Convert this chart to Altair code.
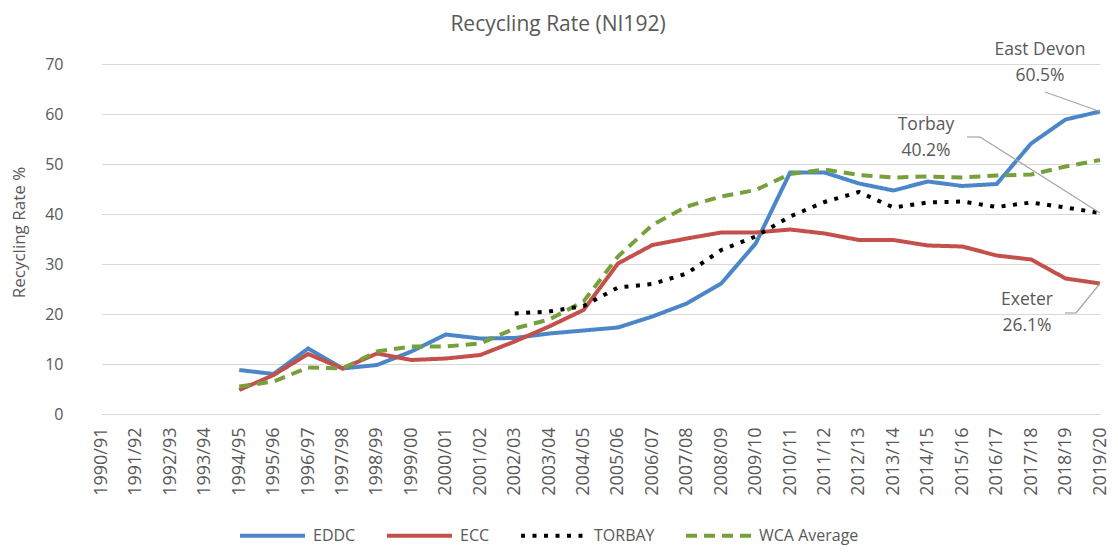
import altair as alt
import pandas as pd

years = ["1990/91", "1991/92", "1992/93", "1993/94", "1994/95", "1995/96", "1996/97",
         "1997/98", "1998/99", "1999/00", "2000/01", "2001/02", "2002/03", "2003/04",
         "2004/05", "2005/06", "2006/07", "2007/08", "2008/09", "2009/10", "2010/11",
         "2011/12", "2012/13", "2013/14", "2014/15", "2015/16", "2016/17", "2017/18",
         "2018/19", "2019/20"]

series_names = ["EDDC", "ECC", "TORBAY", "WCA Average"]

eddc = [None, None, None, None, 8.8, 8.0, 13.1, 9.1, 9.8, 12.5, 15.9, 15.1, 15.2, 16.1,
        16.7, 17.3, 19.5, 22.1, 26.1, 34.1, 48.3, 48.3, 46.1, 44.7, 46.5, 45.6, 46.0,
        54.1, 58.9, 60.5]
ecc = [None, None, None, None, 4.8, 7.8, 12.0, 9.1, 12.1, 10.8, 11.1, 11.8, 14.5, 17.5,
       20.8, 30.1, 33.8, 35.1, 36.3, 36.3, 36.9, 36.1, 34.8, 34.8, 33.7, 33.5, 31.7,
       30.9, 27.1, 26.1]
torbay = [None] * 12 + [20.1, 20.5, 21.6, 25.3, 26.0, 28.1, 32.8, 35.5, 39.5, 42.4,
                        44.4, 41.3, 42.3, 42.5, 41.4, 42.3, 41.3, 40.2]
wca = [None, None, None, None, 5.5, 6.5, 9.3, 9.1, 12.5, 13.5, 13.5, 14.1, 17.1, 18.9,
       22.5, 31.5, 37.8, 41.5, 43.5, 44.8, 48.0, 48.9, 47.8, 47.3, 47.5, 47.3, 47.7,
       47.9, 49.5, 50.8]

y_ticks = [0, 10, 20, 30, 40, 50, 60, 70]

ann_names = ["East Devon", "Torbay", "Exeter"]
ann_values = [60.5, 40.2, 26.1]
ann_labels = ["60.5%", "40.2%", "26.1%"]

colors = ["#4a86c8", "#c4504b", "#000000", "#76a03c"]
dashes = [[1, 0], [1, 0], [4, 7.5], [11, 7]]

rows = []
for name, vals in zip(series_names, [eddc, ecc, torbay, wca]):
    for yr, v in zip(years, vals):
        if v is not None:
            rows.append({"year": yr, "series": name, "rate": v})
df = pd.DataFrame(rows)

FONT = "Open Sans"
GREY = "#595959"

x_scale = alt.Scale(type="point", domain=years, range=[17.5, 1016], padding=0)
y_scale = alt.Scale(domain=[0, 70], nice=False)

x_axis = alt.Axis(title=None, labelAngle=270, labelAlign="right",
                  labelBaseline="middle", labelPadding=13, labelFontSize=18,
                  labelColor=GREY, labelFont=FONT, domain=False, ticks=False,
                  grid=False, labelOverlap=False)
y_axis = alt.Axis(title="Recycling Rate %", values=y_ticks, labelFontSize=16,
                  labelColor=GREY, labelFont=FONT, labelPadding=21,
                  domain=False, ticks=False, grid=True, gridColor="#d9d9d9",
                  gridWidth=1.2, titleFont=FONT, titleFontSize=17,
                  titleColor=GREY, titleFontWeight="normal", titleX=-65,
                  titleY=168, titleAngle=270, titleAlign="center",
                  titleBaseline="middle")

x_enc = alt.X("year:N", sort=years, scale=x_scale, axis=x_axis)
y_enc = alt.Y("rate:Q", scale=y_scale, axis=y_axis)
color_enc = alt.Color("series:N", sort=series_names,
                      scale=alt.Scale(domain=series_names, range=colors),
                      legend=alt.Legend(title=None, orient="none", legendX=178,
                                        legendY=461, direction="horizontal",
                                        symbolType="M-4,0H4", symbolSize=264,
                                        symbolStrokeWidth=4, labelFontSize=16,
                                        labelFont=FONT, labelColor=GREY,
                                        labelOffset=30, columnPadding=23))
dash_enc = alt.StrokeDash("series:N", sort=series_names,
                          scale=alt.Scale(domain=series_names, range=dashes),
                          legend=None)

base = alt.Chart(df).encode(x=x_enc, y=y_enc, color=color_enc, strokeDash=dash_enc)

solid = base.transform_filter(alt.datum.series != "TORBAY").mark_line(strokeWidth=4)
dotted = base.transform_filter(alt.datum.series == "TORBAY").mark_line(strokeWidth=4)

ann_df = pd.DataFrame({"name": ann_names, "value": ann_values, "label": ann_labels,
                       "year": [years[-1]] * 3})
ann_df["text"] = ann_df["name"] + "\n" + ann_df["label"]

def ann_layer(name, dx, dy, pts):
    d = ann_df[ann_df["name"] == name]
    xe = alt.X("year:N", sort=years, scale=x_scale, axis=x_axis)
    ye = alt.Y("value:Q", scale=y_scale, axis=y_axis)
    t = alt.Chart(d).mark_text(font=FONT, fontSize=17.5, color=GREY, baseline="top",
                                align="center", lineBreak="\n", lineHeight=26,
                                dx=dx, dy=dy).encode(x=xe, y=ye, text="text:N")
    layers = [t]
    r1 = alt.Chart(d).mark_rule(color="#a6a6a6", strokeWidth=1.2).encode(
        x=xe, y=ye, x2=alt.value(pts[0][0]), y2=alt.value(pts[0][1]))
    layers.append(r1)
    if len(pts) > 1:
        r2 = alt.Chart(d).mark_rule(color="#a6a6a6", strokeWidth=1.2).encode(
            x=alt.value(pts[0][0]), y=alt.value(pts[0][1]),
            x2=alt.value(pts[1][0]), y2=alt.value(pts[1][1]))
        layers.append(r2)
    return layers

ann = []
ann += ann_layer("East Devon", -60, -71, [(961, 28)])
ann += ann_layer("Torbay", -174, -97, [(896, 73), (883, 73)])
ann += ann_layer("Exeter", -73, 7, [(992, 249), (981, 249)])

chart = alt.layer(solid, dotted, *ann).properties(
    width=1026, height=350,
    autosize=alt.AutoSizeParams(type="none"),
    padding={"left": 76, "top": 56, "right": 0, "bottom": 131},
    background="white",
    title=alt.TitleParams("Recycling Rate (NI192)", fontSize=21, color=GREY, font=FONT,
                          fontWeight="normal", anchor="middle", dx=-39, offset=6),
).configure_view(stroke="transparent").configure_axis(domain=False, ticks=False)

chart.save("out.html", embed_options={"renderer": "svg", "actions": False})
